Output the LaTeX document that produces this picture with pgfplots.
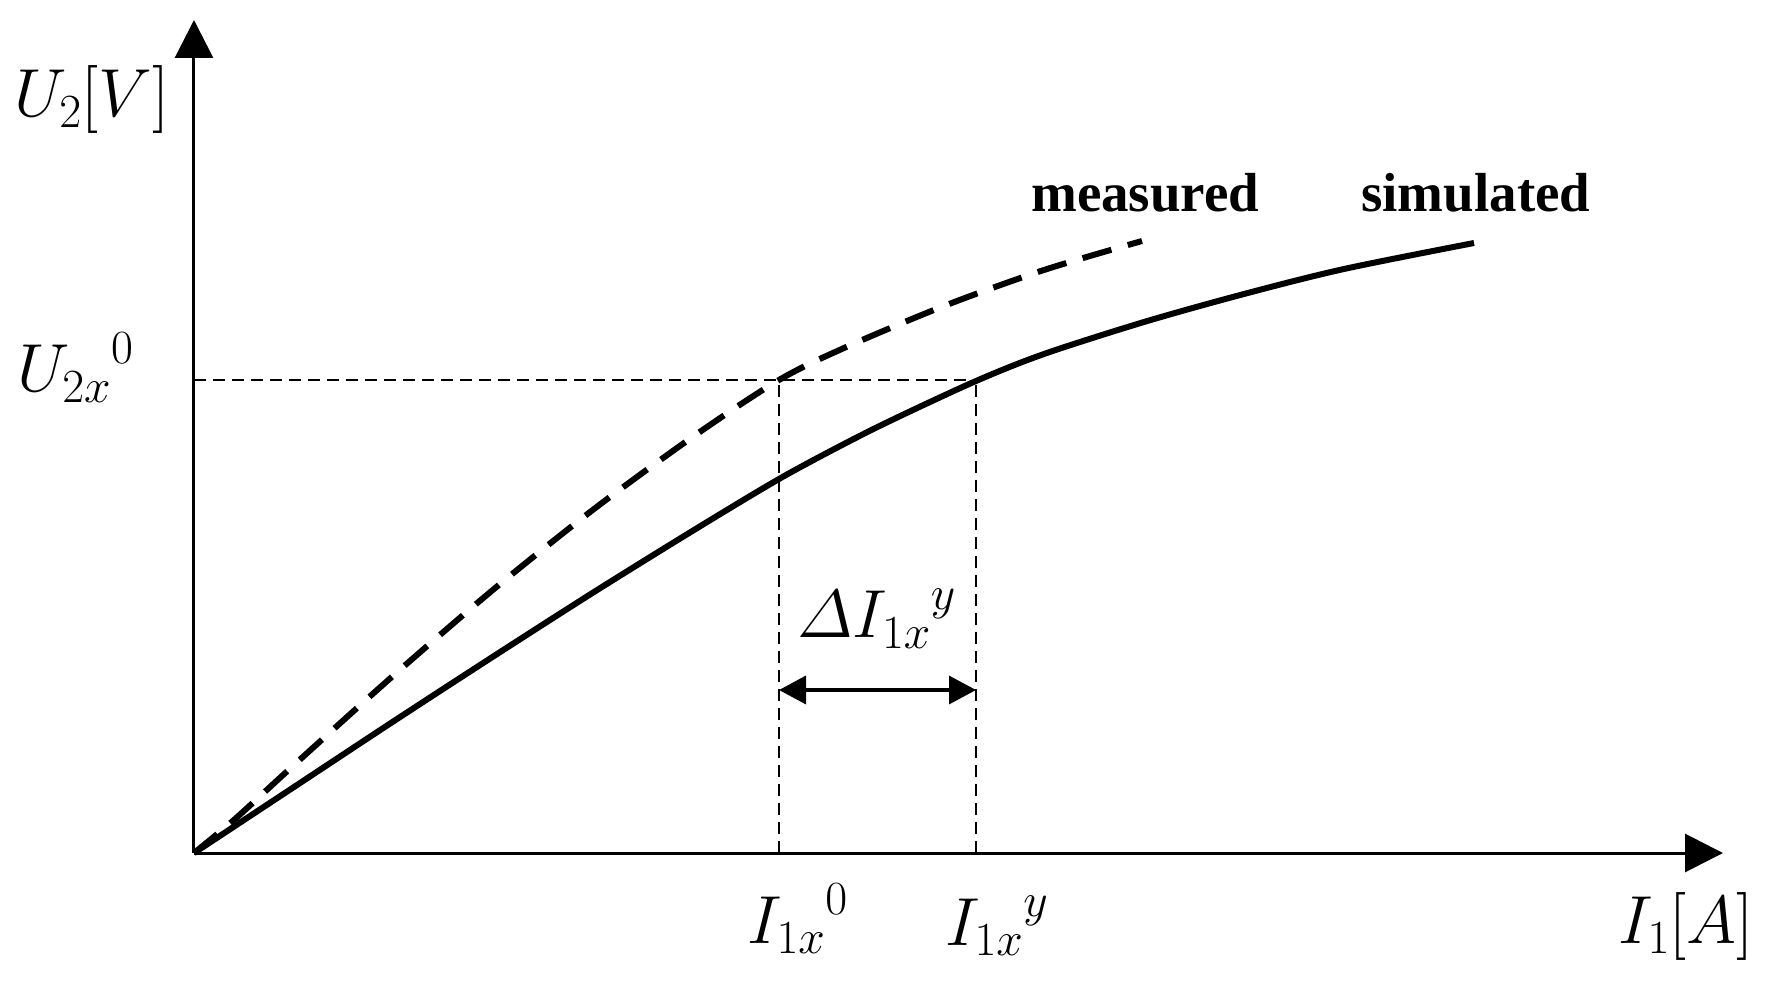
\documentclass[border=0pt]{standalone}
\usepackage{fix-cm}
\usepackage{fontspec}
\usepackage{pgfplots}
\pgfplotsset{compat=1.18}
\usetikzlibrary{arrows.meta}
\newfontfamily\lblfont{Liberation Serif}
\begin{document}
\begin{tikzpicture}
\useasboundingbox (-194pt,-132pt) rectangle (1577pt,853pt);
\begin{axis}[
  x=1pt, y=1pt,
  xmin=0, xmax=1529, ymin=0, ymax=833,
  axis lines=left,
  axis line style={line width=3pt, -{Triangle[length=38pt,width=38pt]}},
  xtick=\empty, ytick=\empty,
  clip=false,
  anchor=origin, at={(0pt,0pt)},
]
% guide lines
\addplot[line width=2pt, dash pattern=on 12pt off 7pt] coordinates {(0,473) (782,473)};
\addplot[line width=2pt, dash pattern=on 12pt off 7pt] coordinates {(585,0) (585,473)};
\addplot[line width=2pt, dash pattern=on 12pt off 7pt] coordinates {(782,0) (782,473)};
% simulated (solid)
\addplot[line width=6pt, smooth] coordinates {
(0,0) (100,66) (200,132) (300,197) (400,261) (500,323) (585,374) (650,409)
(700,434) (782,472) (850,499) (950,531) (1050,559) (1150,584) (1280,610)};
% measured (dashed)
\addplot[line width=6pt, smooth, dash pattern=on 30pt off 17pt] coordinates {
(0,0) (41,34) (100,88) (200,178) (300,264) (400,344) (500,417) (585,473)
(650,505) (750,547) (850,583) (948,612)};
% delta arrow
\addplot[line width=3.5pt, {Triangle[length=27pt,width=28pt]}-{Triangle[length=27pt,width=28pt]}] coordinates {(585,163) (782,163)};
% labels
\node[anchor=base west, inner sep=0pt, font=\fontsize{68}{72}\selectfont] at (axis cs:-180,736) {$U_2[V]$};
\node[anchor=base west, inner sep=0pt, font=\fontsize{68}{72}\selectfont] at (axis cs:-177,461) {${U_{2x}}^{0}$};
\node[anchor=base west, inner sep=0pt, font=\fontsize{68}{72}\selectfont] at (axis cs:553,-90) {${I_{1x}}^{0}$};
\node[anchor=base west, inner sep=0pt, font=\fontsize{68}{72}\selectfont] at (axis cs:751,-92) {${I_{1x}}^{y}$};
\node[anchor=base west, inner sep=0pt, font=\fontsize{68}{72}\selectfont] at (axis cs:1424,-90) {$I_1[A]$};
\node[anchor=base west, inner sep=0pt, font=\fontsize{68}{72}\selectfont] at (axis cs:603,215) {$\mathnormal{\Delta}{I_{1x}}^{y}$};
\node[anchor=base west, inner sep=0pt, font=\lblfont\bfseries\fontsize{55}{60}\selectfont] at (axis cs:837,641) {measured};
\node[anchor=base west, inner sep=0pt, font=\lblfont\bfseries\fontsize{55}{60}\selectfont] at (axis cs:1167,641) {simulated};
\end{axis}
\end{tikzpicture}
\end{document}
